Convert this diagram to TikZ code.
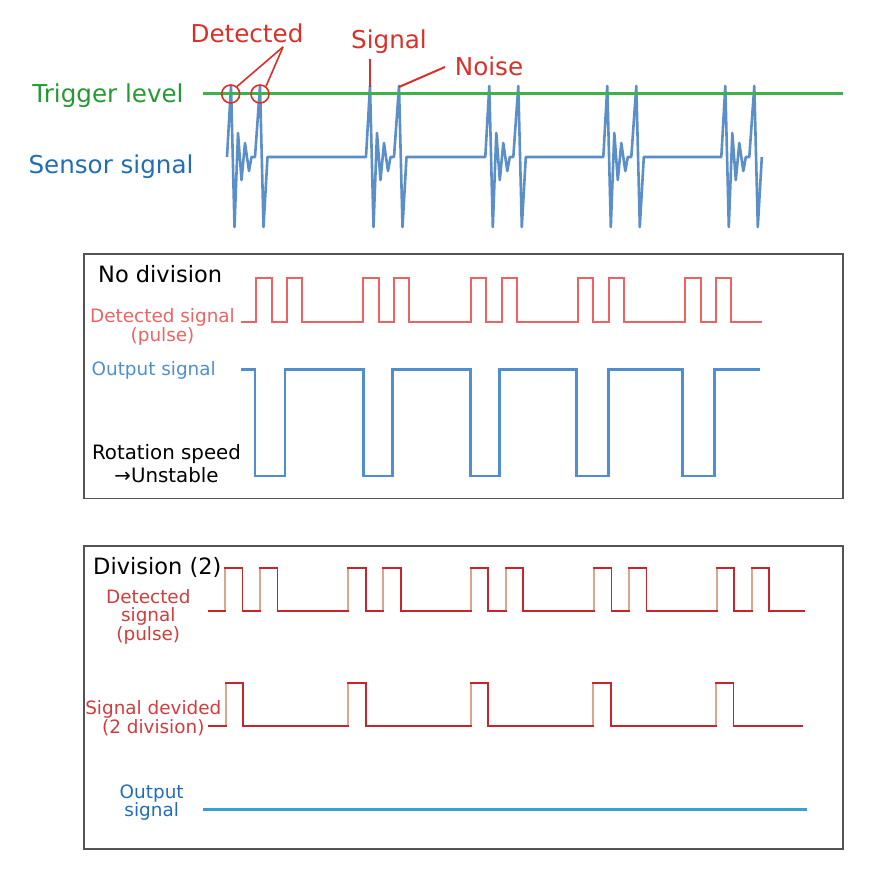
\documentclass[tikz,border=0pt]{standalone}
\usepackage{fontspec}
\setmainfont{DejaVu Sans}
\usetikzlibrary{calc}
\definecolor{TriggerClr}{rgb}{0.25,0.69,0.29}
\definecolor{TriggerTxt}{rgb}{0.15,0.60,0.20}
\definecolor{SensorClr}{rgb}{0.36,0.56,0.78}
\definecolor{SensorTxt}{rgb}{0.13,0.43,0.71}
\definecolor{MarkClr}{rgb}{0.85,0.19,0.16}
\definecolor{PulseClr}{rgb}{0.93,0.39,0.39}
\definecolor{OutClr}{rgb}{0.31,0.56,0.81}
\definecolor{DivClr}{rgb}{0.78,0.14,0.17}
\definecolor{DivTxt}{rgb}{0.82,0.24,0.24}
\definecolor{EdgeClr}{rgb}{0.86,0.65,0.55}
\definecolor{FlatClr}{rgb}{0.23,0.62,0.82}
\definecolor{PanelClr}{rgb}{0.33,0.33,0.33}

\begin{document}
\begin{tikzpicture}[x=1pt,y=-1pt,
  bigtxt/.style={font=\fontsize{24.6}{28}\selectfont,inner sep=0pt},
  paneltitle/.style={font=\fontsize{22.5}{26}\selectfont,anchor=west,inner sep=0pt},
  lbl/.style={font=\fontsize{18.4}{18.3}\selectfont,align=center,inner sep=0pt},
  panel/.style={draw=PanelClr,line width=1.5pt},
  detring/.style={circle,draw=MarkClr,line width=1.6pt,minimum size=18pt,inner sep=0pt},
  lead/.style={draw=MarkClr,line width=1.6pt}]
\useasboundingbox (0,0) rectangle (890,882);

\node[bigtxt,text=TriggerTxt] (trig) at (108,96) {Trigger level};
\node[bigtxt,text=SensorTxt] (sens) at (111,167) {Sensor signal};
\node[bigtxt,text=MarkClr] (det) at (247,33) {Detected};
\node[bigtxt,text=MarkClr] (sig) at (389,42) {Signal};
\node[bigtxt,text=MarkClr] (noise) at (489,66) {Noise};

\draw[SensorClr,line width=2.6pt,line join=round] (227,157)
  \foreach \p in {231,370,489.3,607.3,725.3}{
    -- (\p-4,157) -- (\p,86) -- (\p+3.5,227) -- (\p+7,133) -- (\p+10.5,180)
    -- (\p+14,143) -- (\p+18,171) -- (\p+20.5,157) -- (\p+24,157)
    -- (\p+29,86) -- (\p+32.5,227) -- (\p+36.5,157)};
\draw[TriggerClr,line width=3pt] (203,94) -- (843,94);

\node[detring] (c1) at (230.7,94) {};
\node[detring] (c2) at (260,94) {};
\coordinate (detfoot) at (283,47);
\draw[lead] (detfoot) -- (c1.50);
\draw[lead] (detfoot) -- (c2.52);
\coordinate (sigfoot) at (370,59);
\coordinate (sigpk) at (370,87);
\draw[lead,line width=2pt] (sigfoot) -- (sigpk);
\coordinate (noisefoot) at (445,67);
\coordinate (noisepk) at (399,87);
\draw[lead,line width=2pt] (noisefoot) -- (noisepk);

\draw[panel] (84,254) rectangle (843,498.5);
\node[paneltitle] (nodiv) at (98,274) {No division};
\node[lbl,text=PulseClr] (pulse1) at (162.5,327) {Detected signal\\(pulse)};
\node[lbl,text=OutClr] (out1) at (153.7,370.7) {Output signal};
\node[lbl,font=\fontsize{19.8}{23.3}\selectfont] (speed) at (166.5,463.3) {Rotation speed\\→Unstable};

\draw[PulseClr,line width=2pt] (241,321.7)
  \foreach \p in {256,363.3,470.7,577.7,685}{
    -- (\p,321.7) -- (\p,278.3) -- (\p+15.5,278.3) -- (\p+15.5,321.7)
    -- (\p+30.8,321.7) -- (\p+30.8,278.3) -- (\p+46,278.3) -- (\p+46,321.7)}
  -- (762,321.7);
\draw[OutClr,line width=2.8pt] (241,369.5)
  \foreach \d/\u in {255/285,363.3/392.3,470.7/499.3,576.7/608.3,682.3/714.3}{
    -- (\d,369.5) -- (\d,476) -- (\u,476) -- (\u,369.5)}
  -- (760,369.5);

\draw[panel] (84,546) rectangle (843,849);
\node[paneltitle] (div) at (93,567.7) {Division (2)};
\node[lbl,text=DivTxt] (pulse2) at (148.3,616.7) {Detected\\signal\\(pulse)};
\node[lbl,font=\fontsize{18.4}{17.7}\selectfont,text=DivTxt] (divided) at (153.3,718) {Signal devided\\(2 division)};
\node[lbl,text=SensorTxt] (out2) at (151.7,802.5) {Output\\signal};

\draw[DivClr,line width=1.8pt] (207.7,610.7)
  \foreach \p in {225,348.3,470.7,594,716.7}{
    -- (\p,610.7) -- (\p,568.3) -- (\p+17.5,568.3) -- (\p+17.5,610.7)
    -- (\p+35,610.7) -- (\p+35,568.3) -- (\p+52.5,568.3) -- (\p+52.5,610.7)}
  -- (805,610.7);
\foreach \p in {225,348.3,470.7,594,716.7}
  \draw[EdgeClr,line width=1.8pt] (\p,609.8) -- (\p,569.2) (\p+35,609.8) -- (\p+35,569.2);

\draw[DivClr,line width=1.8pt] (208.3,726)
  \foreach \p in {225.7,348.3,470.7,593.3,716}{
    -- (\p,726) -- (\p,683.3) -- (\p+17.5,683.3) -- (\p+17.5,726)}
  -- (803.3,726);
\foreach \p in {225.7,348.3,470.7,593.3,716}
  \draw[EdgeClr,line width=1.8pt] (\p,725.1) -- (\p,684.2);

\draw[FlatClr,line width=3.5pt] (203.3,809.3) -- (807.3,809.3);
\end{tikzpicture}
\end{document}
